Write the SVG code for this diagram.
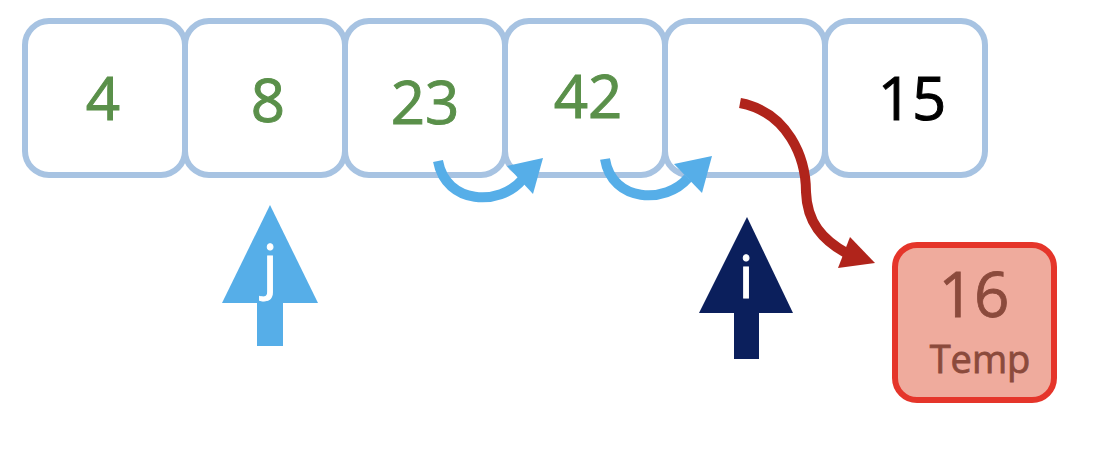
<svg xmlns="http://www.w3.org/2000/svg" width="1118" height="454" viewBox="0 0 1118 454">
<style>
.cell{fill:#fff;stroke:#A7C3E2;stroke-width:6}
.num{font-family:"Open Sans","Liberation Sans",sans-serif;font-size:60px;text-anchor:middle;fill:#5A904A;stroke:#5A904A;stroke-width:1}
.blk{fill:#000;stroke:#000}
.blue{fill:none;stroke:#56AEE8;stroke-width:10}
.bluefill{fill:#56AEE8}
.lbl{font-family:"Open Sans","Liberation Sans",sans-serif;font-size:58px;text-anchor:middle;fill:#fff;stroke:#fff;stroke-width:1}
.tmp{font-family:"Open Sans","Liberation Sans",sans-serif;text-anchor:middle;fill:#8B4A3C;stroke:#8B4A3C;stroke-width:0.8}
</style>
<rect width="1118" height="454" fill="#fff"/>
<g id="cell0"><rect class="cell" x="25" y="21" width="160" height="154" rx="24"/><text class="num" x="103" y="120">4</text></g>
<g id="cell1"><rect class="cell" x="185" y="21" width="160" height="154" rx="24"/><text class="num" x="268" y="122">8</text></g>
<g id="cell2"><rect class="cell" x="345" y="21" width="160" height="154" rx="24"/><text class="num" x="425" y="124">23</text></g>
<g id="cell3"><rect class="cell" x="505" y="21" width="160" height="154" rx="24"/><text class="num" x="588" y="118">42</text></g>
<g id="cell4"><rect class="cell" x="665" y="21" width="160" height="154" rx="24"/></g>
<g id="cell5"><rect class="cell" x="825" y="21" width="160" height="154" rx="24"/><text class="num blk" x="912" y="120">15</text></g>
<g id="temp"><rect x="895" y="245" width="159" height="155" rx="22" fill="#EFAB9D" stroke="#E5352A" stroke-width="6"/><text class="tmp" x="974" y="317" font-size="62">16</text><text class="tmp" x="980" y="373" font-size="38">Temp</text></g>
<g id="pointer-j"><polygon class="bluefill" points="270,205 222,303 318,303"/><rect class="bluefill" x="257" y="302" width="26" height="44"/><text class="lbl" x="270" y="287">j</text></g>
<g id="pointer-i"><polygon points="747,217 699,313 793,313" fill="#0B1F5C"/><rect x="734" y="312" width="25" height="47" fill="#0B1F5C"/><text class="lbl" x="746" y="298">i</text></g>
<g id="connectors">
<path class="blue" d="M438,161 C446,205 500,206 522,180"/>
<polygon class="bluefill" points="507,166 543,158 533,194"/>
<path class="blue" d="M605,159 C612,203 666,204 688,178"/>
<polygon class="bluefill" points="674,164 712,156 702,193"/>
<path d="M740,103 C788,112 806,158 806,192 C807,222 822,240 848,254" fill="none" stroke="#B0241B" stroke-width="10"/>
<polygon points="850,237 875,263 838,268" fill="#B0241B"/>
</g>
</svg>
